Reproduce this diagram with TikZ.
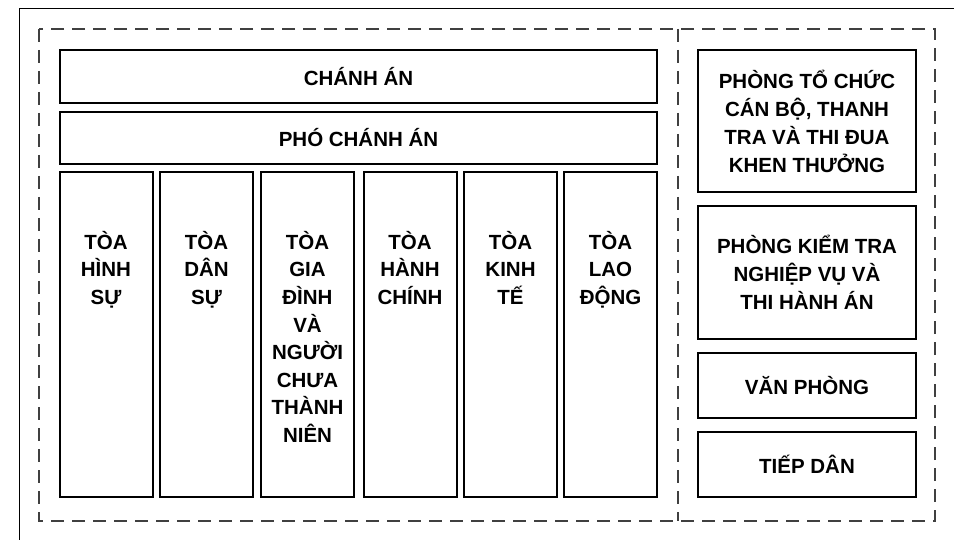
\documentclass[tikz,border=0pt]{standalone}
\usepackage{fontspec}
\setmainfont{Liberation Sans}
\begin{document}
\begin{tikzpicture}[x=1pt,y=-1pt,
  box/.style={draw=black,line width=2pt,fill=white,inner sep=0pt,align=center,
    font=\bfseries\fontsize{20.5pt}{28pt}\selectfont},
  coltext/.style={inner sep=0pt,anchor=north,align=center,
    font=\bfseries\fontsize{20.5pt}{27.6pt}\selectfont},
  dashframe/.style={draw=black!75,line width=1.3pt,dash pattern=on 13pt off 8pt},
  frameline/.style={draw=black,line width=1pt}]
\useasboundingbox (0,0) rectangle (954,540);
% outer frame lines
\coordinate (ftr) at (954,9);
\coordinate (ftl) at (19,9);
\coordinate (fbl) at (19,540);
\draw[frameline] (ftr) -- (ftl) -- (fbl);
% dashed container
\coordinate (dtl) at (39,29);
\coordinate (dbr) at (935,521);
\coordinate (dvt) at (678,29);
\coordinate (dvb) at (678,521);
\draw[dashframe] (dtl) rectangle (dbr);
\draw[dashframe] (dvt) -- (dvb);
% top boxes
\node[box,minimum width=597pt,minimum height=53pt] (chanhan) at (358.5,76.5) {CHÁNH ÁN};
\node[box,minimum width=597pt,minimum height=52pt] (pho) at (358.5,138) {PHÓ CHÁNH ÁN};
% columns
\foreach \n/\cx in {c1/106,c2/206.5,c3/307.5,c4/410,c5/510.5,c6/610.5}{
  \node[box,minimum width=93pt,minimum height=325pt] (\n) at (\cx,334.5) {};
}
\node[coltext] (t1) at ([yshift=-58pt]c1.north) {\rule{0pt}{20pt}TÒA\\HÌNH\\SỰ};
\node[coltext] (t2) at ([yshift=-58pt]c2.north) {\rule{0pt}{20pt}TÒA\\DÂN\\SỰ};
\node[coltext] (t3) at ([yshift=-58pt]c3.north) {\rule{0pt}{20pt}TÒA\\GIA\\ĐÌNH\\VÀ\\NGƯỜI\\CHƯA\\THÀNH\\NIÊN};
\node[coltext] (t4) at ([yshift=-58pt]c4.north) {\rule{0pt}{20pt}TÒA\\HÀNH\\CHÍNH};
\node[coltext] (t5) at ([yshift=-58pt]c5.north) {\rule{0pt}{20pt}TÒA\\KINH\\TẾ};
\node[coltext] (t6) at ([yshift=-58pt]c6.north) {\rule{0pt}{20pt}TÒA\\LAO\\ĐỘNG};
% right boxes
\node[box,minimum width=218pt,minimum height=142pt] (r1) at (807,121) {PHÒNG TỔ CHỨC\\CÁN BỘ, THANH\\TRA VÀ THI ĐUA\\KHEN THƯỞNG};
\node[box,minimum width=218pt,minimum height=133pt] (r2) at (807,272.5) {PHÒNG KIỂM TRA\\NGHIỆP VỤ VÀ\\THI HÀNH ÁN};
\node[box,minimum width=218pt,minimum height=65pt] (r3) at (807,385.5) {VĂN PHÒNG};
\node[box,minimum width=218pt,minimum height=65pt] (r4) at (807,464.5) {TIẾP DÂN};
\end{tikzpicture}
\end{document}
